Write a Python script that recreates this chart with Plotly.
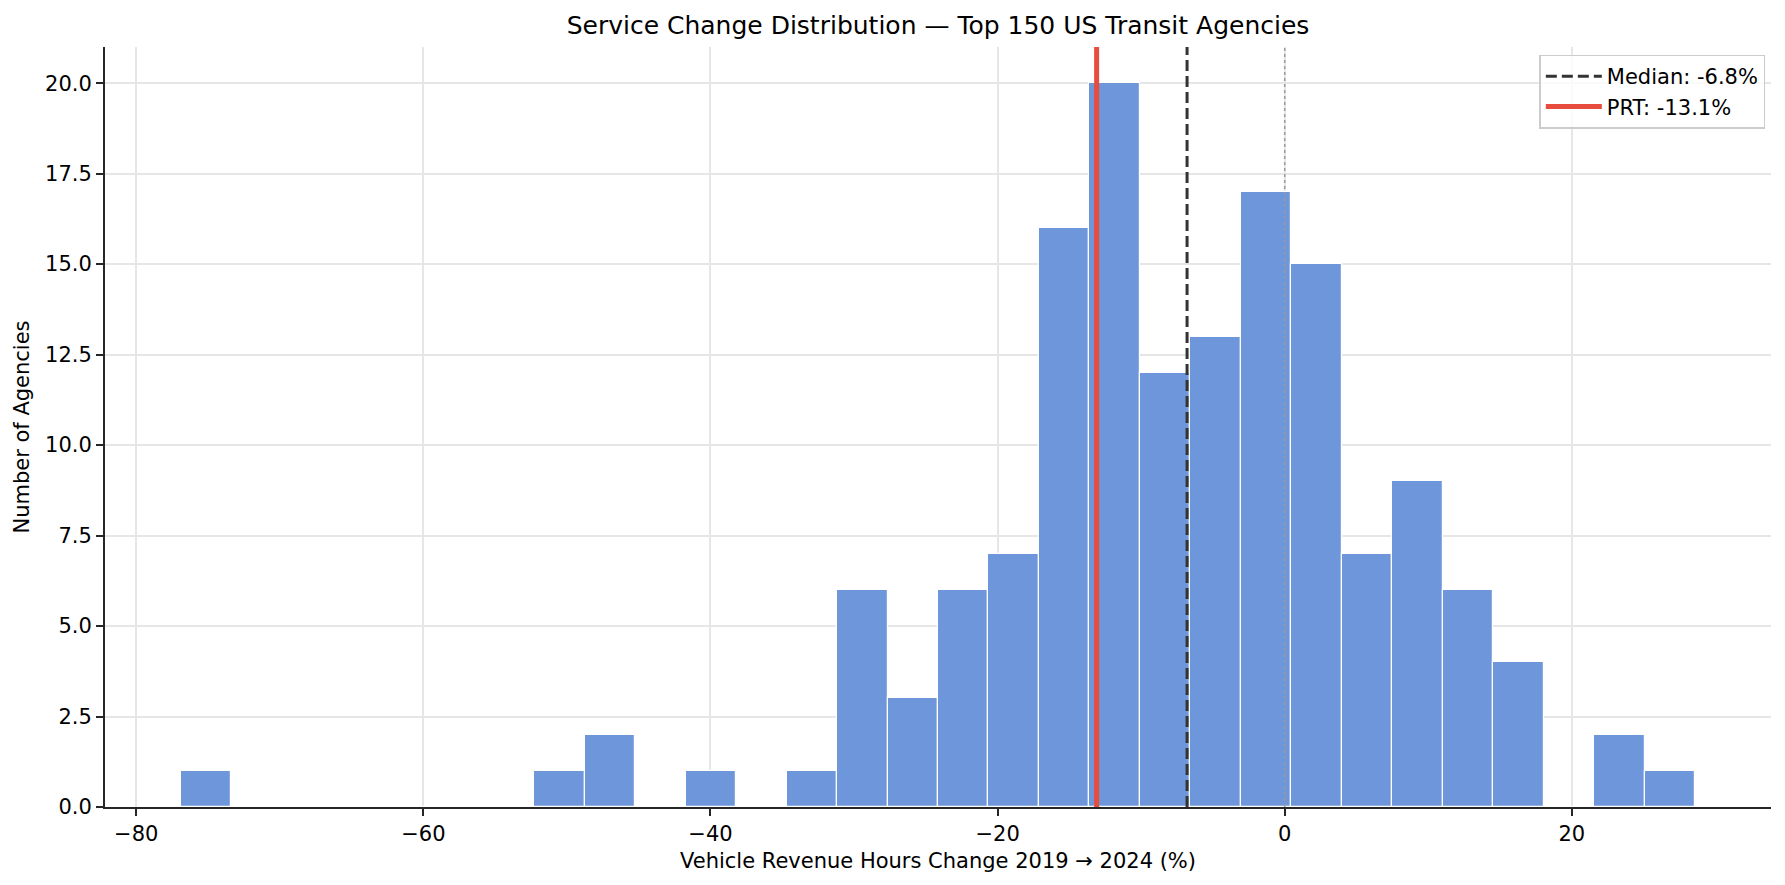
import numpy as np
import plotly.graph_objects as go

# histogram of VRH change, 30 bins between the min and max agency values
bin_lo = -76.9
bin_hi = 28.6
counts = [1, 0, 0, 0, 0, 0, 0, 1, 2, 0, 1, 0, 1, 6, 3,
          6, 7, 16, 20, 12, 13, 17, 15, 7, 9, 6, 4, 0, 2, 1]
median_change = -6.8
prt_change = -13.1

x_ticks = [-80, -60, -40, -20, 0, 20]
x_tick_labels = ["\u221280", "\u221260", "\u221240", "\u221220", "0", "20"]
y_ticks = [0, 2.5, 5, 7.5, 10, 12.5, 15, 17.5, 20]

title = "Service Change Distribution \u2014 Top 150 US Transit Agencies"
x_label = "Vehicle Revenue Hours Change 2019 \u2192 2024 (%)"
y_label = "Number of Agencies"


def main():
    edges = np.linspace(bin_lo, bin_hi, len(counts) + 1)
    centers = (edges[:-1] + edges[1:]) / 2
    bin_w = edges[1] - edges[0]
    span = bin_hi - bin_lo

    font = "DejaVu Sans"
    axis_col = "#262626"
    # page body has an 8px margin, so the figure is a bit smaller than the window
    w, h = 1769, 869

    fig = go.Figure()
    fig.add_trace(go.Bar(
        x=centers, y=counts, width=bin_w,
        marker=dict(color="rgb(110,150,218)", line=dict(color="white", width=1.2)),
        showlegend=False, hoverinfo="x+y",
    ))

    # vertical reference lines
    fig.add_shape(type="line", x0=median_change, x1=median_change, y0=0, y1=1,
                  xref="x", yref="paper",
                  line=dict(color="#333333", width=3, dash="11px,5px"),
                  showlegend=True, name=f"Median: {median_change}%")
    fig.add_shape(type="line", x0=prt_change, x1=prt_change, y0=0, y1=1,
                  xref="x", yref="paper",
                  line=dict(color="#e74c3c", width=5),
                  showlegend=True, name=f"PRT: {prt_change}%")
    fig.add_shape(type="line", x0=0, x1=0, y0=0, y1=1, xref="x", yref="paper",
                  line=dict(color="#999999", width=1.5, dash="dot"))

    fig.update_layout(
        width=w, height=h,
        margin=dict(l=97, r=6, t=39, b=70),
        paper_bgcolor="white", plot_bgcolor="white",
        font=dict(family=font, size=21, color="black"),
        title=dict(text=title, x=0.5, xref="paper", y=1 - 17 / h, yref="container",
                   xanchor="center", yanchor="middle", font=dict(size=25)),
        legend=dict(x=0.9966, y=0.99, xanchor="right", yanchor="top",
                    bgcolor="rgba(255,255,255,0.8)", bordercolor="#cccccc", borderwidth=1.5,
                    font=dict(size=21), itemwidth=56),
        bargap=0,
    )
    fig.update_xaxes(
        range=[bin_lo - 0.05 * span, bin_hi + 0.05 * span],
        tickvals=x_ticks, ticktext=x_tick_labels, automargin=False,
        showgrid=True, gridcolor="#e6e6e6", gridwidth=1.5,
        showline=True, linecolor=axis_col, linewidth=2, zeroline=False,
        ticks="outside", ticklen=7, tickwidth=1.7, tickcolor=axis_col,
        title=dict(text=x_label, standoff=8, font=dict(size=21)),
    )
    fig.update_yaxes(
        range=[0, max(counts) * 1.05],
        tickvals=y_ticks, tickformat=".1f", automargin=False,
        showgrid=True, gridcolor="#e6e6e6", gridwidth=1.5,
        showline=True, linecolor=axis_col, linewidth=2, zeroline=False,
        ticks="outside", ticklen=7, tickwidth=1.7, tickcolor=axis_col,
        title=dict(text=y_label, standoff=10, font=dict(size=21)),
    )
    fig.write_html("out.html")


if __name__ == '__main__':
    main()
